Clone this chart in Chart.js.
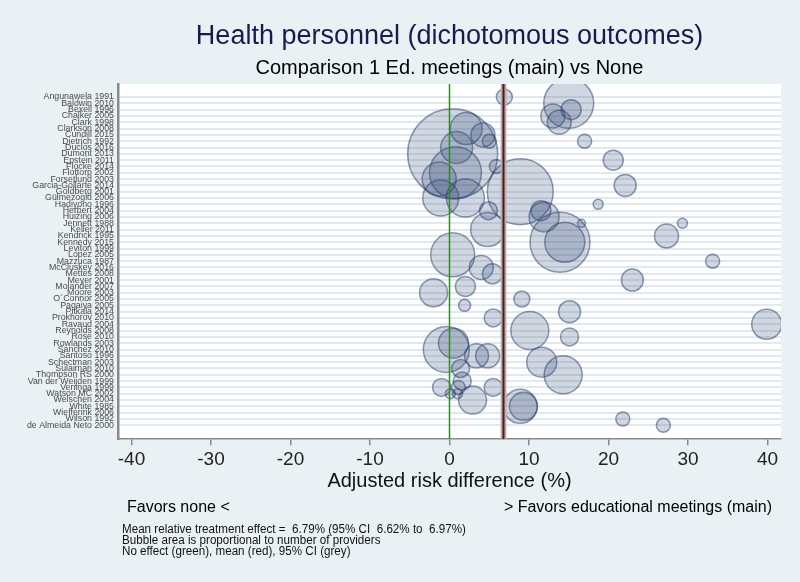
<!DOCTYPE html>
<html>
<head>
<meta charset="utf-8">
<script src="https://cdn.jsdelivr.net/npm/chart.js@4"></script>
<style>
  body { margin: 0; background: #eaf1f4; }
  #wrap { width: 800px; height: 582px; }
</style>
</head>
<body>
<div id="wrap"><canvas id="myChart" width="800" height="582"></canvas></div>
<script>
// studies shown on the y axis, top to bottom
const studies = [
  "Angunawela 1991", "Baldwin 2010", "Bexell 1996", "Chalker 2005", "Clark 1998",
  "Clarkson 2008", "Cundill 2015", "Dietrich 1992", "Duclos 2016", "Dumont 2013",
  "Epstein 2011", "Flocke 2014", "Flottorp 2002", "Forsetlund 2003", "Garcia-Gollarte 2014",
  "Goldberg 2001", "Gülmezoglu 2006", "Hadiyono 1996", "Herbert 2004", "Huizing 2006",
  "Jennett 1988", "Keller 2011", "Kendrick 1995", "Kennedy 2015", "Leviton 1999",
  "Lopez 2005", "Mazzuca 1987", "McCluskey 2016", "Mettes 2008", "Meyer 2001",
  "Molander 2007", "Moore 2003", "O´Connor 2005", "Pagaiya 2005", "Pitkala 2014",
  "Prokhorov 2010", "Ravaud 2004", "Reynolds 2008", "Rose 2010", "Rowlands 2003",
  "Sanchez 2010", "Santoso 1996", "Schectman 2003", "Sulaiman 2010", "Thompson RS 2000",
  "Van der Weijden 1999", "Veninga 1999", "Watson MC 2002", "Welschen 2004", "White 1985",
  "Wiefferink 2006", "Wilson 1992", "de Almeida Neto 2000"
];

// one entry per comparison: study row, adjusted risk difference (%), number of providers
const pointStudy = [
  0, 1, 2, 3, 4, 5, 6, 7, 7, 8,
  9, 10, 11, 12, 13, 14, 15, 16, 16, 17,
  18, 18, 19, 20, 20, 21, 22, 23, 23, 25,
  27, 28, 26, 29, 30, 31, 32, 33, 34, 35,
  36, 37, 38, 39, 40, 41, 41, 42, 43, 44,
  45, 46, 46, 46, 47, 47, 48, 49, 49, 51,
  52
];
const pointRd = [
  6.9, 15.0, 15.3, 13.0, 13.8, 2.1, 4.2, 5.0, 17.0, 0.9,
  0.4, 20.6, 5.9, 0.75, -1.3, 22.1, 8.9, -1.1, 2.0, 18.7,
  4.9, 11.5, 11.9, 16.6, 29.3, 4.8, 27.3, 13.9, 14.5, 0.4,
  4.0, 5.4, 33.1, 23.0, 2.0, -2.0, 9.1, 1.9, 15.1, 5.5,
  39.9, 10.1, 15.1, 0.5, -0.4, 3.4, 4.8, 11.6, 1.4, 14.3,
  1.6, -1.0, 1.1, 5.5, 0.1, 1.0, 2.9, 8.9, 9.3, 21.8,
  26.9
];
const pointProviders = [
  256, 2500, 400, 576, 576, 1024, 576, 196, 196, 1024,
  8100, 400, 196, 2704, 1156, 484, 4356, 1296, 1444, 100,
  324, 400, 900, 64, 100, 1156, 576, 3600, 1600, 1936,
  576, 400, 196, 484, 400, 784, 256, 144, 484, 324,
  900, 1444, 324, 900, 2116, 576, 576, 900, 324, 1444,
  324, 324, 196, 324, 100, 100, 784, 1156, 784, 196,
  196
];

// summary lines
const noEffect = 0;
const meanEffect = 6.79;
const ciLow = 6.62;
const ciHigh = 6.97;

const xTicks = [-40, -30, -20, -10, 0, 10, 20, 30, 40];
const yMin = -2.06;
const yMax = 54.2;

const notes = [
  "Mean relative treatment effect =  6.79% (95% CI  6.62% to  6.97%)",
  "Bubble area is proportional to number of providers",
  "No effect (green), mean (red), 95% CI (grey)",
];

const bubbles = pointRd.map((rd, i) => ({
  x: rd,
  y: pointStudy[i],
  r: Math.sqrt(pointProviders[i]) / 2,
}));

const vline = (x) => [{ x: x, y: yMin }, { x: x, y: yMax }];

const sans = "'Liberation Sans', Arial, sans-serif";

// draws text squeezed horizontally
const squeezedText = (ctx, text, x, y, factor) => {
  ctx.save();
  ctx.translate(x, y);
  ctx.scale(factor, 1);
  ctx.fillText(text, 0, 0);
  ctx.restore();
};

// backgrounds, study labels and the text blocks around the plot
const decor = {
  id: "decor",
  beforeDraw(chart) {
    const { ctx, chartArea } = chart;
    ctx.save();
    ctx.fillStyle = "#eaf1f4";
    ctx.fillRect(0, 0, chart.width, chart.height);
    ctx.fillStyle = "#ffffff";
    ctx.fillRect(chartArea.left, chartArea.top, chartArea.right - chartArea.left, chartArea.bottom - chartArea.top);
    ctx.restore();
  },
  afterDraw(chart) {
    const { ctx, chartArea } = chart;
    const yScale = chart.scales.y;
    const cx = (chartArea.left + chartArea.right) / 2;
    ctx.save();

    // study labels
    ctx.font = "8.8px " + sans;
    ctx.fillStyle = "#4a4a4a";
    ctx.textAlign = "right";
    ctx.textBaseline = "middle";
    studies.forEach((s, i) => {
      ctx.fillText(s, chartArea.left - 4, yScale.getPixelForValue(i));
    });

    ctx.textAlign = "center";
    ctx.textBaseline = "alphabetic";
    ctx.fillStyle = "#1a1a4e";
    ctx.font = "27px " + sans;
    ctx.fillText("Health personnel (dichotomous outcomes)", cx, 44);
    ctx.fillStyle = "#000";
    ctx.font = "20px " + sans;
    ctx.fillText("Comparison 1 Ed. meetings (main) vs None", cx, 74);

    ctx.font = "16px " + sans;
    ctx.textAlign = "left";
    ctx.fillText("Favors none <", 127, 512);
    ctx.textAlign = "right";
    ctx.fillText("> Favors educational meetings (main)", 772, 512);

    ctx.textAlign = "left";
    ctx.font = "12.5px " + sans;
    ctx.fillStyle = "#111";
    notes.forEach((n, i) => squeezedText(ctx, n, 122, 532.5 + i * 11, 0.93));
    ctx.restore();
  },
};

const chart = document.querySelector("#myChart");

const config = {
  type: "bubble",
  data: {
    datasets: [
      {
        type: "line",
        label: "Mean",
        data: vline(meanEffect),
        borderColor: "#5c1414",
        borderWidth: 2,
        pointRadius: 0,
        order: 0,
      },
      {
        type: "line",
        label: "No effect",
        data: vline(noEffect),
        borderColor: "#2e8b1e",
        borderWidth: 1.5,
        pointRadius: 0,
        order: 0,
      },
      {
        type: "line",
        label: "CI low",
        data: vline(ciLow),
        borderColor: "#b0b0b0",
        borderWidth: 3,
        pointRadius: 0,
        order: 0,
      },
      {
        type: "line",
        label: "CI high",
        data: vline(ciHigh),
        borderColor: "#b0b0b0",
        borderWidth: 3,
        pointRadius: 0,
        order: 0,
      },
      {
        label: "Studies",
        data: bubbles,
        backgroundColor: "rgba(45, 70, 115, 0.22)",
        borderColor: "rgba(40, 60, 105, 0.5)",
        borderWidth: 1.5,
        order: 1,
      },
    ],
  },
  options: {
    responsive: false,
    animation: false,
    layout: { autoPadding: false, padding: { top: 84, right: 19, bottom: 89, left: 0 } },
    plugins: {
      legend: { display: false },
      tooltip: { enabled: false },
    },
    scales: {
      x: {
        type: "linear",
        min: -41.7,
        max: 41.7,
        afterBuildTicks: (scale) => {
          scale.ticks = xTicks.map((v) => ({ value: v }));
        },
        afterFit: (scale) => {
          scale.paddingLeft = 0;
          scale.paddingRight = 0;
        },
        grid: { drawOnChartArea: false, drawTicks: true, tickLength: 6, color: "#888", lineWidth: 1.5 },
        border: { display: true, color: "#888", width: 1.5 },
        ticks: { font: { family: sans, size: 19 }, color: "#222", padding: 3, maxRotation: 0 },
        title: {
          display: true,
          text: "Adjusted risk difference (%)",
          font: { family: sans, size: 20 },
          color: "#111",
          padding: { top: -5, bottom: 0 },
        },
      },
      y: {
        type: "linear",
        reverse: true,
        min: yMin,
        max: yMax,
        afterBuildTicks: (scale) => {
          scale.ticks = studies.map((s, i) => ({ value: i }));
        },
        afterFit: (scale) => {
          scale.width = 118;
        },
        grid: { color: "#dfe9ee", lineWidth: 2, drawTicks: false },
        border: { display: true, color: "#8a8a8a", width: 2.5 },
        ticks: { display: false },
      },
    },
  },
  plugins: [decor],
};

new Chart(chart, config);
</script>
</body>
</html>
